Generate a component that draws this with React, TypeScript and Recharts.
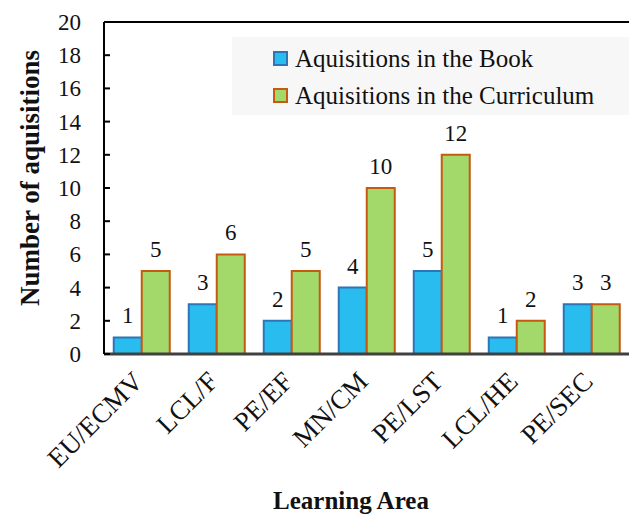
import React from "react";
import {
    BarChart,
    Bar,
    XAxis,
    YAxis,
    LabelList,
    ReferenceLine,
} from "recharts";

const areas = ["EU/ECMV", "LCL/F", "PE/EF", "MN/CM", "PE/LST", "LCL/HE", "PE/SEC"];
const bookValues = [1, 3, 2, 4, 5, 1, 3];
const curriculumValues = [5, 6, 5, 10, 12, 2, 3];
const yTicks = [0, 2, 4, 6, 8, 10, 12, 14, 16, 18, 20];

const data = areas.map((name, i) => ({
    name,
    book: bookValues[i],
    curriculum: curriculumValues[i],
}));

const FONT = "Liberation Serif, Times New Roman, serif";

const YTick = (props: any) => {
    const { x, y, payload } = props;
    return (
        <g>
            <line x1={x + 8} x2={x + 14} y1={y} y2={y} stroke="#000" strokeWidth={2} />
            <text x={x - 15} y={y} dy={8} textAnchor="end" fontSize={23} style={{ fontFamily: FONT }} fill="#111">
                {payload.value}
            </text>
        </g>
    );
};

const XTick = (props: any) => {
    const { x, y, payload } = props;
    const ax = x + 3;
    const ay = y + 21;
    return (
        <text
            x={ax}
            y={ay}
            textAnchor="end"
            fontSize={27}
            style={{ fontFamily: FONT }}
            fill="#111"
            transform={`rotate(-45, ${ax}, ${ay})`}
        >
            {payload.value}
        </text>
    );
};

const legendItems = [
    { label: "Aquisitions in the Book", fill: "#29bdef", stroke: "#2e75b6" },
    { label: "Aquisitions in the Curriculum", fill: "#a3d86a", stroke: "#c55a11" },
];

const LegendBox = () => (
    <div
        style={{
            position: "absolute",
            left: 232,
            top: 37,
            background: "#f7f7f7",
            width: 397,
            height: 78,
            fontFamily: FONT,
            fontSize: 25,
            color: "#111",
            boxSizing: "border-box",
            paddingLeft: 41,
            paddingTop: 3,
        }}
    >
        {legendItems.map((item) => (
            <div key={item.label} style={{ display: "flex", alignItems: "center", height: 37, whiteSpace: "nowrap" }}>
                <span
                    style={{
                        display: "inline-block",
                        width: 11,
                        height: 11,
                        background: item.fill,
                        border: `2px solid ${item.stroke}`,
                        marginRight: 7,
                    }}
                />
                <span>{item.label}</span>
            </div>
        ))}
    </div>
);

const labelStyle = { fontFamily: FONT };

export default function App() {
    return (
        <div style={{ position: "absolute", left: 0, top: 0, width: 629, height: 514, fontFamily: FONT }}>
            <BarChart
                width={629}
                height={514}
                data={data}
                margin={{ top: 22, right: 0, left: 0, bottom: 0 }}
                barGap={0}
                barCategoryGap="13%"
                style={{ fontFamily: FONT }}
            >
                <XAxis
                    dataKey="name"
                    height={160}
                    tick={<XTick />}
                    tickLine={false}
                    axisLine={{ stroke: "#404040", strokeWidth: 3 }}
                    interval={0}
                    label={{
                        content: () => (
                            <text
                                x={351}
                                y={509}
                                textAnchor="middle"
                                fontSize={25}
                                fontWeight="bold"
                                style={labelStyle}
                                fill="#111"
                            >
                                Learning Area
                            </text>
                        ),
                    }}
                />
                <YAxis
                    width={104}
                    domain={[0, 20]}
                    ticks={yTicks}
                    interval={0}
                    tick={<YTick />}
                    tickLine={false}
                    axisLine={{ stroke: "#000", strokeWidth: 2 }}
                    label={{
                        content: (p: any) => {
                            const vb = p.viewBox || {};
                            const cx = 30;
                            const cy = (vb.y ?? 22) + (vb.height ?? 332) / 2 - 10;
                            return (
                                <text
                                    x={cx}
                                    y={cy}
                                    textAnchor="middle"
                                    dominantBaseline="central"
                                    fontSize={27}
                                    fontWeight="bold"
                                    style={labelStyle}
                                    fill="#111"
                                    transform={`rotate(-90, ${cx}, ${cy})`}
                                >
                                    Number of aquisitions
                                </text>
                            );
                        },
                    }}
                />
                <ReferenceLine y={20} stroke="#000" strokeWidth={2} />
                <Bar
                    dataKey="book"
                    name="Aquisitions in the Book"
                    fill="#29bdef"
                    stroke="#2e75b6"
                    strokeWidth={2}
                    isAnimationActive={false}
                >
                    <LabelList
                        dataKey="book"
                        position="top"
                        offset={14}
                        fontSize={23}
                        style={labelStyle}
                        fill="#111"
                    />
                </Bar>
                <Bar
                    dataKey="curriculum"
                    name="Aquisitions in the Curriculum"
                    fill="#a3d86a"
                    stroke="#c55a11"
                    strokeWidth={2}
                    isAnimationActive={false}
                >
                    <LabelList
                        dataKey="curriculum"
                        position="top"
                        offset={14}
                        fontSize={23}
                        style={labelStyle}
                        fill="#111"
                    />
                </Bar>
            </BarChart>
            <LegendBox />
        </div>
    );
}
